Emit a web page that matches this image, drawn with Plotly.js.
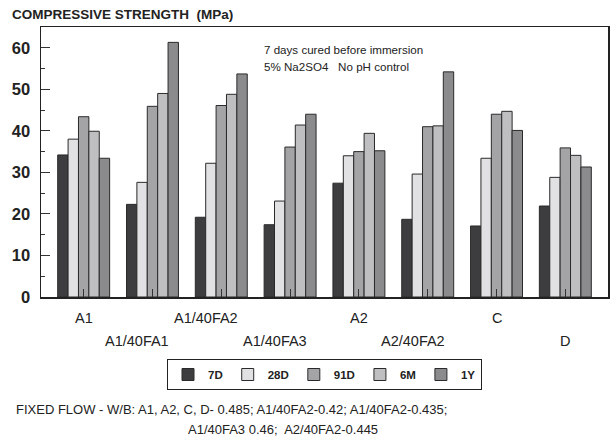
<!DOCTYPE html>
<html>
<head>
<meta charset="utf-8">
<script src="https://cdn.plot.ly/plotly-3.0.1.min.js"></script>
<style>html,body{margin:0;padding:0;background:#fff;}#chart{width:610px;height:440px;}</style>
</head>
<body>
<div id="chart"></div>
<script>
// ---- data ----
const categories = ["A1", "A1/40FA1", "A1/40FA2", "A1/40FA3", "A2", "A2/40FA2", "C", "D"];
const seriesNames = ["7D", "28D", "91D", "6M", "1Y"];
const s7D  = [34.2, 22.3, 19.2, 17.4, 27.4, 18.7, 17.1, 21.9];
const s28D = [38.0, 27.6, 32.2, 23.1, 34.0, 29.6, 33.4, 28.8];
const s91D = [43.4, 45.9, 46.1, 36.1, 35.0, 41.0, 44.0, 35.9];
const s6M  = [39.9, 49.0, 48.8, 41.4, 39.4, 41.2, 44.7, 34.1];
const s1Y  = [33.4, 61.3, 53.7, 44.0, 35.2, 54.2, 40.1, 31.3];
const yTickVals = [0, 10, 20, 30, 40, 50, 60];
const titleText = "COMPRESSIVE STRENGTH  (MPa)";
const noteLines = ["7 days cured before immersion", "5% Na2SO4   No pH control"];
const footLines = ["FIXED FLOW - W/B: A1, A2, C, D- 0.485; A1/40FA2-0.42; A1/40FA2-0.435;",
                   "A1/40FA3 0.46;  A2/40FA2-0.445"];

// ---- styles ----
const colors = ["#3d3d3f", "#e1e1e3", "#a4a4a7", "#bfbfc2", "#8b8b8e"];
const sans = "Liberation Sans, Arial, Helvetica, sans-serif";

const allSeries = [s7D, s28D, s91D, s6M, s1Y];
const xIdx = categories.map((c, i) => i);
const traces = allSeries.map((vals, k) => ({
  type: "bar",
  name: seriesNames[k],
  x: xIdx,
  y: vals,
  marker: {color: colors[k], line: {color: "#2a2a2a", width: 1}},
  hoverinfo: "skip"
}));

const annotations = [];
// category labels in two staggered rows
const labelShift = categories.map(c => c.length > 3 ? -15 : 0);
categories.forEach((c, i) => {
  annotations.push({
    text: c, xref: "x", yref: "paper", x: i, y: (i % 2 === 0) ? -0.078 : -0.163,
    xshift: labelShift[i], xanchor: "center", yanchor: "middle", showarrow: false,
    font: {family: sans, size: 14.5, color: "#222"}
  });
});
// note inside plot
noteLines.forEach((t, j) => {
  annotations.push({
    text: t, xref: "paper", yref: "paper", x: (262 - 41) / 567, y: (297 - 49 - j * 17) / 270,
    xanchor: "left", yanchor: "middle", showarrow: false,
    font: {family: sans, size: 11.6, color: "#222"}
  });
});
// footnotes
annotations.push({
  text: footLines[0], xref: "paper", yref: "paper", x: (14 - 41) / 567, y: (297 - 409) / 270,
  xanchor: "left", yanchor: "middle", showarrow: false,
  font: {family: sans, size: 13, color: "#222"}
});
annotations.push({
  text: footLines[1], xref: "paper", yref: "paper", x: (186 - 41) / 567, y: (297 - 429) / 270,
  xanchor: "left", yanchor: "middle", showarrow: false,
  font: {family: sans, size: 13, color: "#222"}
});

const layout = {
  width: 610, height: 440,
  margin: {l: 41, r: 2, t: 27, b: 143},
  paper_bgcolor: "#fff", plot_bgcolor: "#fff",
  title: {text: titleText, xref: "container", yref: "container", x: 12 / 610, xanchor: "left",
          y: 1 - 14 / 440, yanchor: "middle",
          font: {family: sans, size: 13.5, color: "#222", weight: "bold"}},
  barmode: "group", bargap: 0.245, bargroupgap: 0,
  showlegend: true,
  legend: {orientation: "h", x: 0.5, xanchor: "center", y: (297 - 359) / 270, yanchor: "top",
           bordercolor: "#222", borderwidth: 1, bgcolor: "#fff",
           font: {family: sans, size: 11.5, color: "#222", weight: "bold"},
           traceorder: "normal", itemclick: false},
  xaxis: {
    type: "linear", range: [-0.62, 7.62],
    tickvals: xIdx, showticklabels: false,
    ticks: "inside", ticklen: 8, tickcolor: "#333", tickwidth: 1,
    showline: true, linecolor: "#222", linewidth: 1.5, mirror: true,
    showgrid: false, zeroline: false, fixedrange: true
  },
  yaxis: {
    range: [0, 65], tickvals: yTickVals,
    ticks: "inside", ticklen: 9, tickcolor: "#333", tickwidth: 1,
    minor: {dtick: 5, tick0: 0, ticks: "inside", ticklen: 4, tickcolor: "#333", showgrid: false},
    tickfont: {family: sans, size: 16.5, color: "#222", weight: "bold"},
    ticklabelstandoff: 6,
    showline: true, linecolor: "#222", linewidth: 1.5, mirror: true,
    showgrid: false, zeroline: false, fixedrange: true
  },
  annotations: annotations
};

Plotly.newPlot("chart", traces, layout, {staticPlot: true, displayModeBar: false});
</script>
</body>
</html>
